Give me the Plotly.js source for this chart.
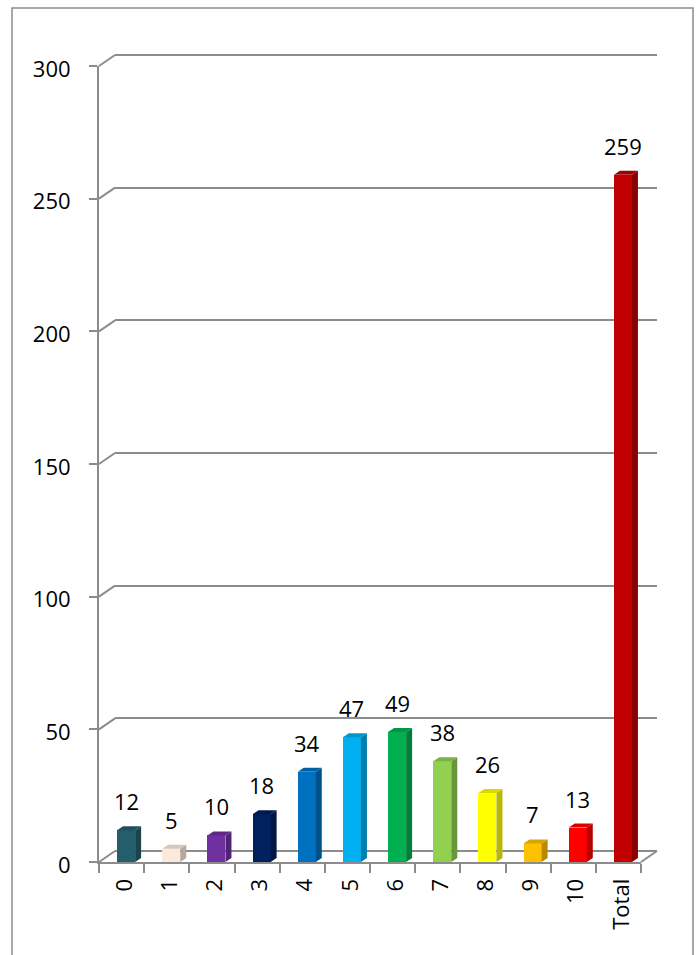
<!DOCTYPE html>
<html>
<head>
<meta charset="utf-8">
<script src="https://cdn.plot.ly/plotly-3.0.1.min.js"></script>
<style>html,body{margin:0;padding:0;background:#fff;}#chart{width:697px;height:955px;}</style>
</head>
<body>
<div id="chart"></div>
<script>
// ---- data ----
const categories = ['0','1','2','3','4','5','6','7','8','9','10','Total'];
const values = [12, 5, 10, 18, 34, 47, 49, 38, 26, 7, 13, 259];
const barColors = ['#255E6B','#FCE9DA','#7030A0','#002060','#0070C0','#00B0F0',
                   '#00B050','#92D050','#FFFF00','#FFC000','#FF0000','#C00000'];
const yTicks = [0, 50, 100, 150, 200, 250, 300];

// ---- styling / geometry ----
const W = 697, H = 955;
const GRAY = '#8C8C8C';
const FONT = {family: 'Open Sans, Liberation Sans, sans-serif', size: 22, color: '#000'};
const front = {x0: 99, x1: 641, yb: 862, yt: 66};
const DX = 16, DY = 11;          // back-wall offset in px
const BAR_SHIFT = 4.5;           // bars sit slightly behind front plane
const DEPTH_PX = 6, RISE_PX = 4; // bar 3D depth
const BAR_W = 0.4;
const yMin = yTicks[0], yMax = yTicks[yTicks.length - 1];
const pxPerCat = (front.x1 - front.x0) / categories.length;
const pxPerUnit = (front.yb - front.yt) / (yMax - yMin);
const dxCat = DEPTH_PX / pxPerCat;
const dyVal = RISE_PX / pxPerUnit;
const EPS = 1; // small range padding so edge gridlines are kept

function shade(hex, f) {
  const n = parseInt(hex.slice(1), 16);
  const r = Math.round(((n >> 16) & 255) * f), g = Math.round(((n >> 8) & 255) * f), b = Math.round((n & 255) * f);
  return 'rgb(' + r + ',' + g + ',' + b + ')';
}
const fx = v => v / W;
const fy = v => (H - v) / H;
const frontY = t => front.yb - (t - yMin) * pxPerUnit;
const idx = categories.map((c, i) => i);

const traces = [
  {type: 'scatter', x: [0], y: [null], xaxis: 'x2', yaxis: 'y2', mode: 'none', hoverinfo: 'skip', showlegend: false},
  {type: 'scatter', x: categories, y: categories.map(() => null), xaxis: 'x', yaxis: 'y', mode: 'none', hoverinfo: 'skip', showlegend: false},
  {type: 'bar', x: idx, y: values, xaxis: 'x3', yaxis: 'y', width: BAR_W,
   marker: {color: barColors, line: {width: 0}}, hoverinfo: 'none', showlegend: false}
];

const shapes = [];
// chart border
shapes.push({type: 'rect', xref: 'paper', yref: 'paper', x0: fx(12), x1: fx(693), y0: -0.1, y1: fy(8),
  line: {color: GRAY, width: 1.5}, fillcolor: 'rgba(0,0,0,0)'});
// left wall diagonals
yTicks.forEach(t => {
  shapes.push({type: 'line', xref: 'paper', yref: 'paper', xsizemode: 'pixel', ysizemode: 'pixel',
    xanchor: fx(front.x0), yanchor: fy(frontY(t)), x0: 0, x1: DX, y0: 0, y1: DY, line: {color: GRAY, width: 2}});
});
// right floor diagonal
shapes.push({type: 'line', xref: 'paper', yref: 'paper', xsizemode: 'pixel', ysizemode: 'pixel',
  xanchor: fx(front.x1), yanchor: fy(frontY(yMin)), x0: 0, x1: DX, y0: 0, y1: DY, line: {color: GRAY, width: 2}});
// 3D faces of bars
values.forEach((v, i) => {
  const xl = i - BAR_W / 2, xr = i + BAR_W / 2;
  shapes.push({type: 'path', xref: 'x3', yref: 'y', layer: 'above',
    path: `M${xr},0 L${xr},${v} L${xr + dxCat},${v + dyVal} L${xr + dxCat},${dyVal} Z`,
    fillcolor: shade(barColors[i], 0.72), line: {width: 0}});
  shapes.push({type: 'path', xref: 'x3', yref: 'y', layer: 'above',
    path: `M${xl},${v} L${xr},${v} L${xr + dxCat},${v + dyVal} L${xl + dxCat},${v + dyVal} Z`,
    fillcolor: shade(barColors[i], 0.85), line: {width: 0}});
});

const annotations = values.map((v, i) => ({
  x: i, y: v, xref: 'x3', yref: 'y', text: String(v), showarrow: false,
  yanchor: 'middle', xanchor: 'center', yshift: 29, font: FONT
}));

const layout = {
  width: W, height: H,
  margin: {l: 0, r: 0, t: 0, b: 0},
  paper_bgcolor: '#fff', plot_bgcolor: 'rgba(0,0,0,0)',
  font: FONT, showlegend: false, bargap: 0,
  xaxis: {domain: [fx(front.x0), fx(front.x1)], type: 'category', range: [-0.5, categories.length - 0.5],
    anchor: 'y', showline: true, linecolor: GRAY, linewidth: 2, ticks: 'outside', tickson: 'boundaries',
    ticklen: 9, tickwidth: 2, tickcolor: GRAY, tickangle: -90, showgrid: false, zeroline: false,
    automargin: false, fixedrange: true, ticklabelstandoff: 6, ticklabelshift: 3, tickfont: FONT},
  yaxis: {domain: [fy(front.yb), fy(front.yt)], range: [yMin, yMax], tickvals: yTicks, anchor: 'x',
    showline: true, linecolor: GRAY, linewidth: 2, ticks: 'outside', ticklen: 8, tickwidth: 2,
    tickcolor: GRAY, showgrid: false, zeroline: false, automargin: false, fixedrange: true,
    ticklabelstandoff: 14, ticklabelshift: 3, tickfont: FONT},
  xaxis2: {domain: [fx(front.x0 + DX), fx(front.x1 + DX)], anchor: 'y2', range: [-0.5, categories.length - 0.5],
    visible: false, fixedrange: true},
  yaxis2: {domain: [fy(front.yb - DY + EPS * pxPerUnit), fy(front.yt - DY - EPS * pxPerUnit)], anchor: 'x2',
    range: [yMin - EPS, yMax + EPS], tickvals: yTicks,
    showgrid: true, gridcolor: GRAY, gridwidth: 2, showline: false, zeroline: false, ticks: '',
    showticklabels: false, fixedrange: true, automargin: false},
  xaxis3: {domain: [fx(front.x0 + BAR_SHIFT), fx(front.x1 + BAR_SHIFT)], anchor: 'y', range: [-0.5, categories.length - 0.5],
    visible: false, fixedrange: true},
  shapes: shapes,
  annotations: annotations
};

Plotly.newPlot('chart', traces, layout, {displayModeBar: false, staticPlot: true});
</script>
</body>
</html>
